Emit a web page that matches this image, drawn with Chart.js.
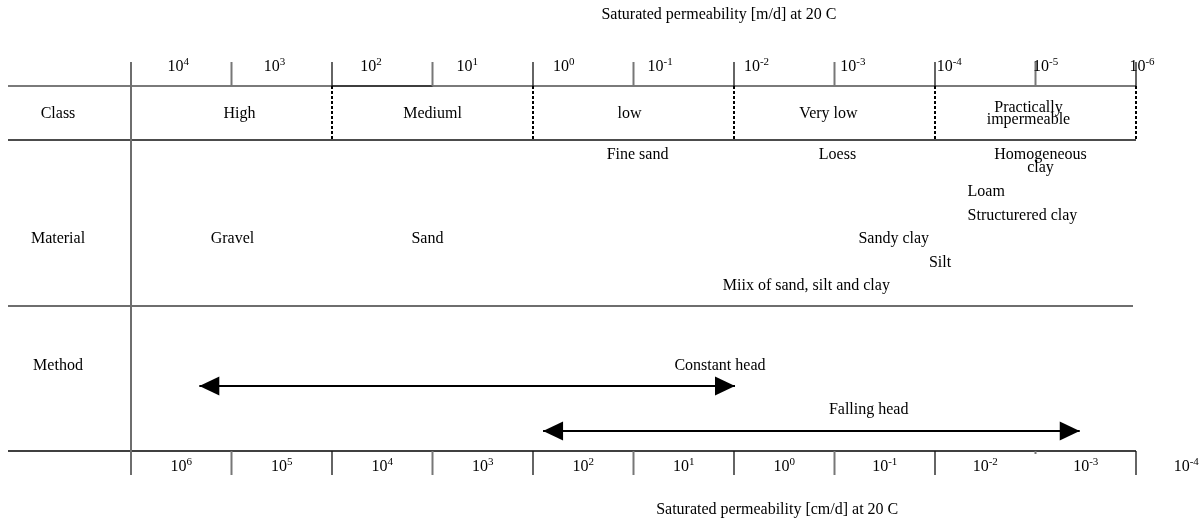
<!DOCTYPE html>
<html>
<head>
<meta charset="utf-8">
<script src="https://cdn.jsdelivr.net/npm/chart.js@4.4.1/dist/chart.umd.min.js"></script>
<style>
html,body{margin:0;padding:0;background:#ffffff;}
#wrap{width:1202px;height:522px;position:relative;}
</style>
</head>
<body>
<div id="wrap"><canvas id="c" width="1202" height="522"></canvas></div>
<script>
// ---------------- DATA ----------------
// x values are log10 of saturated permeability in m/d
const rowNames = ['Class', 'Material', 'Method'];
const classNames = ['High', 'Mediuml', 'low', 'Very low', 'Practically\nimpermeable'];
const classBounds = [4, 2, 0, -2, -4, -6];
const classLabelAt = [2.92, 1.0, -0.96, -2.94, -4.93];

const topTickExponents = [4, 3, 2, 1, 0, -1, -2, -3, -4, -5, -6];     // m/d
const bottomTickExponents = [6, 5, 4, 3, 2, 1, 0, -1, -2, -3, -4];   // cm/d

const materialNames = ['Gravel', 'Sand', 'Fine sand', 'Loess', 'Homogeneous\nclay', 'Loam',
  'Structurered clay', 'Sandy clay', 'Silt', 'Miix of sand, silt and clay'];
const materialLogK = [2.99, 1.05, -1.04, -3.03, -5.05, -4.51, -4.87, -3.59, -4.05, -2.72];

const methodNames = ['Constant head', 'Falling head'];
const methodFrom = [3.32, -0.10];
const methodTo = [-2.01, -5.44];

const topTitle = 'Saturated permeability [m/d] at 20 C';
const bottomTitle = 'Saturated permeability [cm/d] at 20 C';

// ---------------- LAYOUT (not data) ----------------
const PX_LEFT = 131, PX_RIGHT = 1136, W = 1202;
const perDecade = (PX_RIGHT - PX_LEFT) / (classBounds[0] - classBounds[classBounds.length - 1]);
const X_MAX = classBounds[0] + PX_LEFT / perDecade;
const X_MIN = classBounds[classBounds.length - 1] - (W - PX_RIGHT) / perDecade;
const X_LINE_START = classBounds[0] + (PX_LEFT - 8) / perDecade;
const X_ROWLABEL = classBounds[0] + (PX_LEFT - 58) / perDecade;
const CM_SHIFT = 2; // 1 m/d = 10^2 cm/d

const Y = {
  title: 15, topTickTop: 62, topLine: 86, topLabelBase: 70.5, classMid: 113.5, classLine: 140,
  matLine: 306, botLine: 451, botTickEnd: 475, botLabelBase: 471, botTitle: 510,
  materialMid: 239, methodMid: 366
};
const materialY = [239, 239, 155, 155, 161.5, 192, 216, 239, 263, 286];
const methodY = [386, 431];
const methodLabelY = [366, 410];
const methodLabelAt = [-1.86, -3.34];
const botTitleAt = -2.43, topTitleAt = -1.85;

const FONT = '"Liberation Serif", "Times New Roman", serif';
const FS = 16;

function txt(ctx, s, x, y, size, align) {
  ctx.font = size + 'px ' + FONT;
  ctx.textAlign = align || 'center';
  ctx.textBaseline = 'middle';
  ctx.fillStyle = '#000';
  ctx.fillText(s, x, y);
}
function multi(ctx, s, x, y, size, lh) {
  const lines = s.split('\n');
  const h = (lines.length - 1) * lh;
  lines.forEach((l, i) => txt(ctx, l, x, y - h / 2 + i * lh, size));
}
function pow10(ctx, exp, cx, baseline) {
  const e = String(exp);
  ctx.font = FS + 'px ' + FONT;
  const w1 = ctx.measureText('10').width;
  ctx.font = '11px ' + FONT;
  const w2 = ctx.measureText(e).width;
  const x0 = cx - (w1 + w2) / 2;
  ctx.fillStyle = '#000';
  ctx.textBaseline = 'alphabetic';
  ctx.textAlign = 'left';
  ctx.font = FS + 'px ' + FONT;
  ctx.fillText('10', x0, baseline);
  ctx.font = '11px ' + FONT;
  ctx.fillText(e, x0 + w1, baseline - 6);
}
function line(ctx, x1, y1, x2, y2, color, w, dash) {
  ctx.save();
  ctx.strokeStyle = color; ctx.lineWidth = w;
  ctx.setLineDash(dash || []);
  ctx.beginPath(); ctx.moveTo(x1, y1); ctx.lineTo(x2, y2); ctx.stroke();
  ctx.restore();
}

const diagram = {
  id: 'diagram',
  beforeDatasetsDraw(chart) {
    const ctx = chart.ctx, xs = chart.scales.x, ys = chart.scales.y;
    const px = v => xs.getPixelForValue(v), py = v => ys.getPixelForValue(v);
    const xl = px(X_LINE_START), xr = px(classBounds[classBounds.length - 1]);
    // horizontal rules
    line(ctx, xl, py(Y.topLine), xr, py(Y.topLine), '#7a7a7a', 2);
    line(ctx, px(2), py(Y.topLine), px(1), py(Y.topLine), '#000', 1.2);
    line(ctx, xl, py(Y.classLine), xr, py(Y.classLine), '#111', 1.5);
    line(ctx, xl, py(Y.matLine), xr - 3, py(Y.matLine), '#6e6e6e', 2);
    line(ctx, xl, py(Y.botLine), xr, py(Y.botLine), '#000', 1.5);
    // left vertical
    line(ctx, px(classBounds[0]), py(Y.topTickTop), px(classBounds[0]), py(Y.botTickEnd), '#6e6e6e', 2);
    // top ticks
    topTickExponents.forEach((n, i) => {
      if (i === 0) return;
      line(ctx, px(n), py(Y.topTickTop), px(n), py(Y.topLine), i % 2 ? '#777' : '#111', i % 2 ? 2 : 1.3);
    });
    // dashed class boundaries
    classBounds.forEach((b, i) => {
      if (i === 0) return;
      line(ctx, px(b), py(Y.topLine), px(b), py(Y.classLine), '#000', 2, [3, 2]);
    });
    // bottom ticks (cm/d)
    bottomTickExponents.forEach((n, i) => {
      if (i === 0) return;
      const v = n - CM_SHIFT;
      const yEnd = (n === -3) ? Y.botLine + 3 : Y.botTickEnd;
      line(ctx, px(v), py(Y.botLine), px(v), py(yEnd), i % 2 ? '#777' : '#111', i % 2 ? 2 : 1.3);
    });
  },
  afterDatasetsDraw(chart) {
    const ctx = chart.ctx, xs = chart.scales.x, ys = chart.scales.y;
    const px = v => xs.getPixelForValue(v), py = v => ys.getPixelForValue(v);
    // arrowheads
    chart.data.datasets.forEach((ds, i) => {
      const pts = chart.getDatasetMeta(i).data;
      const a = pts[0], b = pts[pts.length - 1];
      ctx.fillStyle = '#000';
      ctx.beginPath();
      ctx.moveTo(a.x, a.y); ctx.lineTo(a.x + 20, a.y - 9.5); ctx.lineTo(a.x + 20, a.y + 9.5); ctx.closePath(); ctx.fill();
      ctx.beginPath();
      ctx.moveTo(b.x, b.y); ctx.lineTo(b.x - 20, b.y - 9.5); ctx.lineTo(b.x - 20, b.y + 9.5); ctx.closePath(); ctx.fill();
    });
    // titles
    txt(ctx, topTitle, px(topTitleAt), py(Y.title), FS);
    txt(ctx, bottomTitle, px(botTitleAt), py(Y.botTitle), FS);
    // row names
    txt(ctx, rowNames[0], px(X_ROWLABEL), py(Y.classMid), FS);
    txt(ctx, rowNames[1], px(X_ROWLABEL), py(Y.materialMid), FS);
    txt(ctx, rowNames[2], px(X_ROWLABEL), py(Y.methodMid), FS);
    // top tick labels (shifted within the decades)
    topTickExponents.forEach((n, i) => {
      const pos = n - (0.47 - 0.041 * i);
      pow10(ctx, n, px(pos), py(Y.topLabelBase));
    });
    // bottom tick labels centered in the decades
    bottomTickExponents.forEach((n) => {
      pow10(ctx, n, px(n - CM_SHIFT - 0.5), py(Y.botLabelBase));
    });
    // class names
    classNames.forEach((c, i) => multi(ctx, c, px(classLabelAt[i]), py(Y.classMid), FS, 12));
    // materials
    materialNames.forEach((m, i) => multi(ctx, m, px(materialLogK[i]), py(materialY[i]), FS, 13));
    // method labels
    methodNames.forEach((m, i) => txt(ctx, m, px(methodLabelAt[i]), py(methodLabelY[i]), FS));
  }
};

new Chart(document.getElementById('c'), {
  type: 'line',
  data: {
    datasets: methodNames.map((n, i) => ({
      label: n,
      data: [{ x: methodFrom[i], y: methodY[i] }, { x: methodTo[i], y: methodY[i] }],
      borderColor: '#000', borderWidth: 2, pointRadius: 0, fill: false, tension: 0
    }))
  },
  options: {
    responsive: false, animation: false, events: [],
    layout: { padding: 0 },
    plugins: { legend: { display: false }, tooltip: { enabled: false }, title: { display: false } },
    scales: {
      x: { type: 'linear', reverse: true, min: X_MIN, max: X_MAX, display: false },
      y: { type: 'linear', reverse: true, min: 0, max: 522, display: false }
    }
  },
  plugins: [diagram]
});
</script>
</body>
</html>
